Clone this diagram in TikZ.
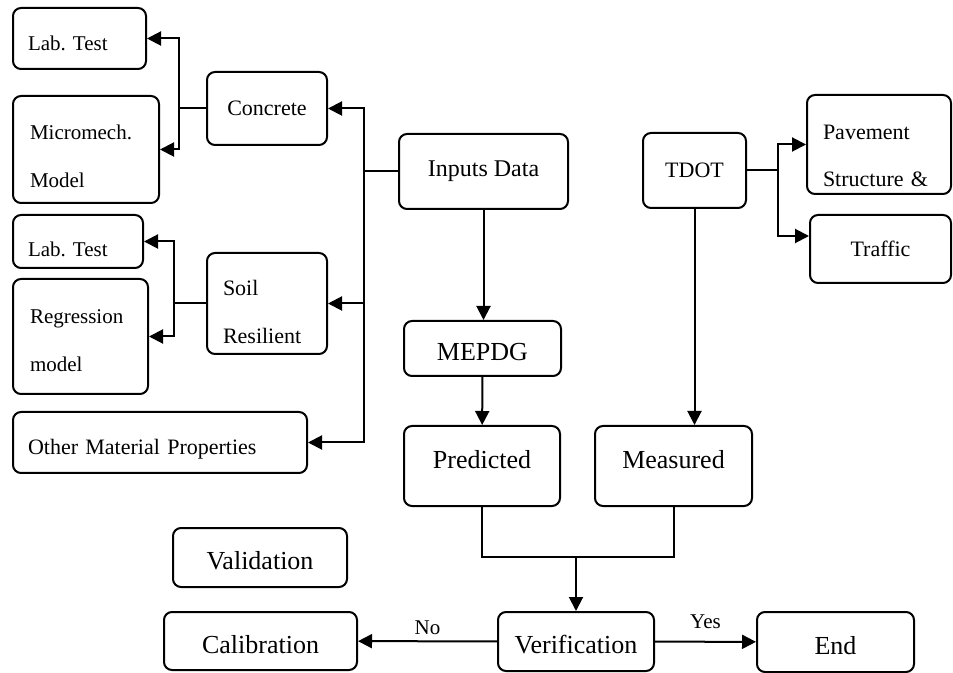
\documentclass[tikz,border=0pt]{standalone}
\usepackage{fontspec}
\setmainfont{Liberation Serif}
\usetikzlibrary{arrows.meta}
\tikzset{%
  >={Triangle[width=7pt,length=7pt]},
  % Specifications for style of nodes:
        base/.style = {rectangle, rounded corners=4pt, draw=black,
                       text centered, inner sep=0pt},
     mainbox/.style = {base, font=\fontsize{13}{15.6}\selectfont,
                       text height=12pt, text depth=0pt},
     highbox/.style = {mainbox, text height=9pt, text depth=6pt},
      subbox/.style = {base, font=\fontsize{11}{13.2}\selectfont},
     leafbox/.style = {base, align=left, inner xsep=7.5pt,
                       font=\fontsize{10.5}{24}\selectfont},
  answertext/.style = {font=\fontsize{10.5}{12.6}\selectfont, inner sep=3pt},
}

\begin{document}
\begin{tikzpicture}[x=0.5pt, y=-0.5pt, line width=1pt]
  \useasboundingbox (0,0) rectangle (953,673);
  % Specification of nodes (position, etc.)
  \node (inputs)       [subbox, font=\fontsize{12}{14.4}\selectfont,
                        minimum width=84.5pt, minimum height=37.5pt] at (483.5,171.5) {Inputs Data};
  \node (concrete)     [subbox, minimum width=60pt, minimum height=36.5pt]   at (267,108.5)   {Concrete};
  \node (soil)         [leafbox, font=\fontsize{11}{24}\selectfont, inner xsep=8pt,
                        text width=44pt, text height=16.5pt, minimum height=50.5pt] at (267,303.5) {Soil\\Resilient};
  \node (other)        [leafbox, font=\fontsize{11}{13.2}\selectfont, text height=14.3pt,
                        text width=132pt, minimum height=30.5pt]             at (160,442.5)   {Other Material Properties};
  \node (labtestA)     [leafbox, text width=51.5pt, text height=12.2pt,
                        minimum height=30.5pt]                               at (79.5,38.5)   {Lab.\ Test};
  \node (micromech)    [leafbox, inner xsep=8.5pt, text width=56pt, text height=14.2pt,
                        minimum height=53.5pt]                               at (86,149.5)    {Micromech.\\Model};
  \node (labtestB)     [leafbox, text width=50pt, text height=15.2pt,
                        minimum height=26.5pt]                               at (78,241.5)    {Lab.\ Test};
  \node (regression)   [leafbox, inner xsep=8.5pt, text width=50.5pt, text height=11.1pt,
                        minimum height=57.5pt]                               at (80.5,336.5)  {Regression\\model};
  \node (tdot)         [subbox, minimum width=51.5pt, minimum height=37.5pt] at (694.5,170.5) {TDOT};
  \node (pavement)     [leafbox, font=\fontsize{11}{23.5}\selectfont, inner xsep=8pt,
                        text width=56pt, text height=18.3pt, minimum height=49.5pt] at (879,144.5) {Pavement\\Structure \&};
  \node (traffic)      [subbox, minimum width=70.5pt, minimum height=34pt]   at (880.5,249)   {Traffic};
  \node (mepdg)        [mainbox, minimum width=78.5pt, minimum height=27.5pt] at (482.5,348.5) {MEPDG};
  \node (predicted)    [highbox, minimum width=78pt, minimum height=40pt]    at (482,466)     {Predicted};
  \node (measured)     [highbox, minimum width=78.5pt, minimum height=40pt]  at (673.5,466)   {Measured};
  \node (validation)   [mainbox, minimum width=87pt, minimum height=29.5pt]  at (260,557.5)   {Validation};
  \node (calibration)  [mainbox, minimum width=96.5pt, minimum height=29pt]  at (260.5,641)   {Calibration};
  \node (verification) [mainbox, minimum width=78pt, minimum height=29.5pt]  at (576,641.5)   {Verification};
  \node (end)          [mainbox, minimum width=78.5pt, minimum height=30pt]  at (835.5,642)   {End};
  % Specification of lines between nodes specified above
  \coordinate (trunk)    at ([xshift=-17pt]inputs.west);
  \coordinate (concfork) at ([xshift=-13.5pt]concrete.west);
  \coordinate (soilfork) at ([xshift=-16pt]soil.west);
  \coordinate (tdotfork) at ([xshift=15.5pt]tdot.east);
  \coordinate (merge)    at (576,557);
  \draw (inputs.west) -- (trunk);
  \draw[->] (trunk) |- (concrete.east);
  \draw[->] (trunk) |- (soil.east);
  \draw[->] (trunk) |- (other.east);
  \draw (concrete.west) -- (concfork);
  \draw[->] (concfork) |- (labtestA.east);
  \draw[->] (concfork) |- (micromech.east);
  \draw (soil.west) -- (soilfork);
  \draw[->] (soilfork) |- (labtestB.east);
  \draw[->] (soilfork) |- (regression.east);
  \draw[->] (inputs.south) -- (inputs.south |- mepdg.north);
  \draw[->] (mepdg) -- (predicted);
  \draw (tdot.east) -- (tdotfork);
  \draw[->] (tdotfork) |- (pavement.west);
  \draw[->] (tdotfork) |- ([yshift=6.5pt]traffic.west);
  \draw[->] (tdot.south) -- (tdot.south |- measured.north);
  \draw (predicted.south) |- (merge) -| (measured.south);
  \draw[->] (merge) -- (verification);
  \draw[->] (verification) -- node[above, answertext] {No} (calibration);
  \draw[->] (verification) -- node[above, answertext, yshift=3pt] {Yes} (end);
\end{tikzpicture}
\end{document}
